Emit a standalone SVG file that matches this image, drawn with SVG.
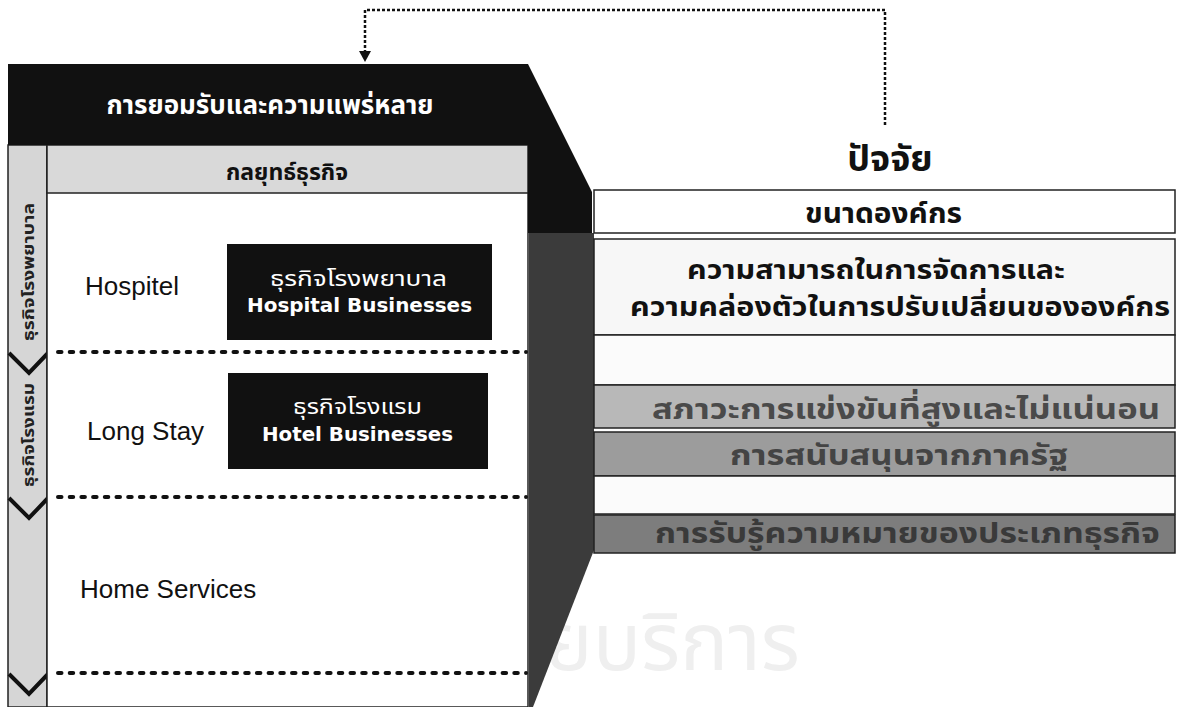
<svg xmlns="http://www.w3.org/2000/svg" width="1178" height="707" viewBox="0 0 1178 707">
<defs>
<style>
.th{font-family:"Noto Sans Thai","Noto Sans","DejaVu Sans","Liberation Sans",sans-serif;}
.en{font-family:"Liberation Sans",Arial,sans-serif;}
.enb{font-family:"DejaVu Sans","Liberation Sans",sans-serif;font-weight:bold;}
.b{font-weight:bold;}
.row{stroke:#222;stroke-width:1.5;}
.dash{stroke:#111;stroke-width:4;stroke-dasharray:3.5 8.2;stroke-linecap:round;fill:none;}
.chev{stroke:#111;stroke-width:4;fill:none;stroke-linejoin:miter;}
</style>
</defs>
<rect width="1178" height="707" fill="#ffffff"/>
<!-- faint watermark -->
<text class="th" x="545" y="670" font-size="80" textLength="255" lengthAdjust="spacingAndGlyphs" fill="#efefef">ยบริการ</text>

<!-- left strip -->
<g id="strip">
<rect x="8" y="145" width="39" height="562" fill="#d6d6d6" class="row"/>
<text class="th b" transform="translate(34,272) rotate(-90)" text-anchor="middle" font-size="15" textLength="138" lengthAdjust="spacingAndGlyphs" fill="#222">ธุรกิจโรงพยาบาล</text>
<text class="th b" transform="translate(34,435) rotate(-90)" text-anchor="middle" font-size="15" textLength="104" lengthAdjust="spacingAndGlyphs" fill="#222">ธุรกิจโรงแรม</text>
<path class="chev" d="M9,353 L29,373 L48,353 L55,352"/>
<path class="chev" d="M9,498 L29,518 L48,498 L55,497"/>
<path class="chev" d="M9,674 L29,694 L48,674 L55,673"/>
</g>

<!-- main frame -->
<g id="frame">
<rect x="47" y="145" width="481" height="562" fill="#ffffff" class="row"/>
<rect x="47" y="145" width="481" height="48" fill="#d9d9d9" class="row"/>
<text class="th b" x="287" y="180" text-anchor="middle" font-size="23" fill="#111">กลยุทธ์ธุรกิจ</text>
</g>

<!-- header black shape -->
<g id="header">
<polygon points="8,64 528,64 592,192 592,233 528,233 528,145 8,145" fill="#111111"/>
<text class="th b" x="270" y="114" text-anchor="middle" font-size="26" fill="#ffffff">การยอมรับและความแพร่หลาย</text>
</g>

<!-- dark grey column -->
<g id="column">
<polygon points="529,233 594,233 594,550 533,707 529,707" fill="#3b3b3b"/>
</g>

<!-- segment labels -->
<g id="hospitel"><text class="en" x="85" y="295" font-size="26" fill="#111">Hospitel</text></g>
<g id="longstay"><text class="en" x="87" y="440" font-size="26" fill="#111">Long Stay</text></g>
<g id="homeservices"><text class="en" x="80" y="598" font-size="26" fill="#111">Home Services</text></g>

<g id="hospital-biz">
<rect x="227" y="244" width="265" height="96" fill="#111111"/>
<text class="th" x="270" y="286" font-size="22" textLength="177" lengthAdjust="spacingAndGlyphs" fill="#ffffff">ธุรกิจโรงพยาบาล</text>
<text class="enb" x="247" y="312" font-size="19" textLength="225" lengthAdjust="spacingAndGlyphs" fill="#ffffff">Hospital Businesses</text>
</g>
<g id="hotel-biz">
<rect x="228" y="373" width="260" height="96" fill="#111111"/>
<text class="th" x="293" y="414" font-size="22" textLength="129" lengthAdjust="spacingAndGlyphs" fill="#ffffff">ธุรกิจโรงแรม</text>
<text class="enb" x="262" y="441" font-size="19" textLength="191" lengthAdjust="spacingAndGlyphs" fill="#ffffff">Hotel Businesses</text>
</g>

<!-- factors title -->
<g id="factors-title">
<text class="th b" x="890" y="171" text-anchor="middle" font-size="36" fill="#111">ปัจจัย</text>
</g>

<!-- factor rows -->
<g id="size">
<rect x="594" y="190" width="581" height="43" fill="#ffffff" class="row"/>
<text class="th b" x="805" y="223" font-size="29" textLength="157" lengthAdjust="spacingAndGlyphs" fill="#111">ขนาดองค์กร</text>
</g>
<g id="capability">
<rect x="594" y="239" width="581" height="96" fill="#f7f7f7" class="row"/>
<text class="th b" x="687" y="279" font-size="27" textLength="378" lengthAdjust="spacingAndGlyphs" fill="#111">ความสามารถในการจัดการและ</text>
<text class="th b" x="630" y="316" font-size="27" textLength="540" lengthAdjust="spacingAndGlyphs" fill="#111">ความคล่องตัวในการปรับเปลี่ยนขององค์กร</text>
</g>
<g id="blank1"><rect x="594" y="335" width="581" height="50" fill="#fbfbfb" class="row"/></g>
<g id="competition">
<rect x="594" y="385" width="581" height="43" fill="#b8b8b8" class="row"/>
<text class="th b" x="652" y="419" font-size="29" textLength="508" lengthAdjust="spacingAndGlyphs" fill="#4a4a4a">สภาวะการแข่งขันที่สูงและไม่แน่นอน</text>
</g>
<g id="government">
<rect x="594" y="432" width="581" height="44" fill="#9c9c9c" class="row"/>
<text class="th b" x="730" y="465" font-size="29" textLength="338" lengthAdjust="spacingAndGlyphs" fill="#444">การสนับสนุนจากภาครัฐ</text>
</g>
<g id="blank2"><rect x="594" y="476" width="581" height="38" fill="#fbfbfb" class="row"/></g>
<g id="perception">
<rect x="594" y="515" width="581" height="38" fill="#7d7d7d" class="row"/>
<text class="th b" x="655" y="543" font-size="29" textLength="505" lengthAdjust="spacingAndGlyphs" fill="#3a3a3a">การรับรู้ความหมายของประเภทธุรกิจ</text>
</g>

<!-- connectors -->
<g id="connectors">
<path d="M885,125 L885,10 L365,10 L365,52" fill="none" stroke="#111" stroke-width="2.5" stroke-dasharray="3 2"/>
<polygon points="359,51 371,51 365,62" fill="#111"/>
<line class="dash" x1="58" y1="352" x2="526" y2="352"/>
<line class="dash" x1="58" y1="497" x2="526" y2="497"/>
<line class="dash" x1="58" y1="673" x2="526" y2="673"/>
</g>
</svg>
